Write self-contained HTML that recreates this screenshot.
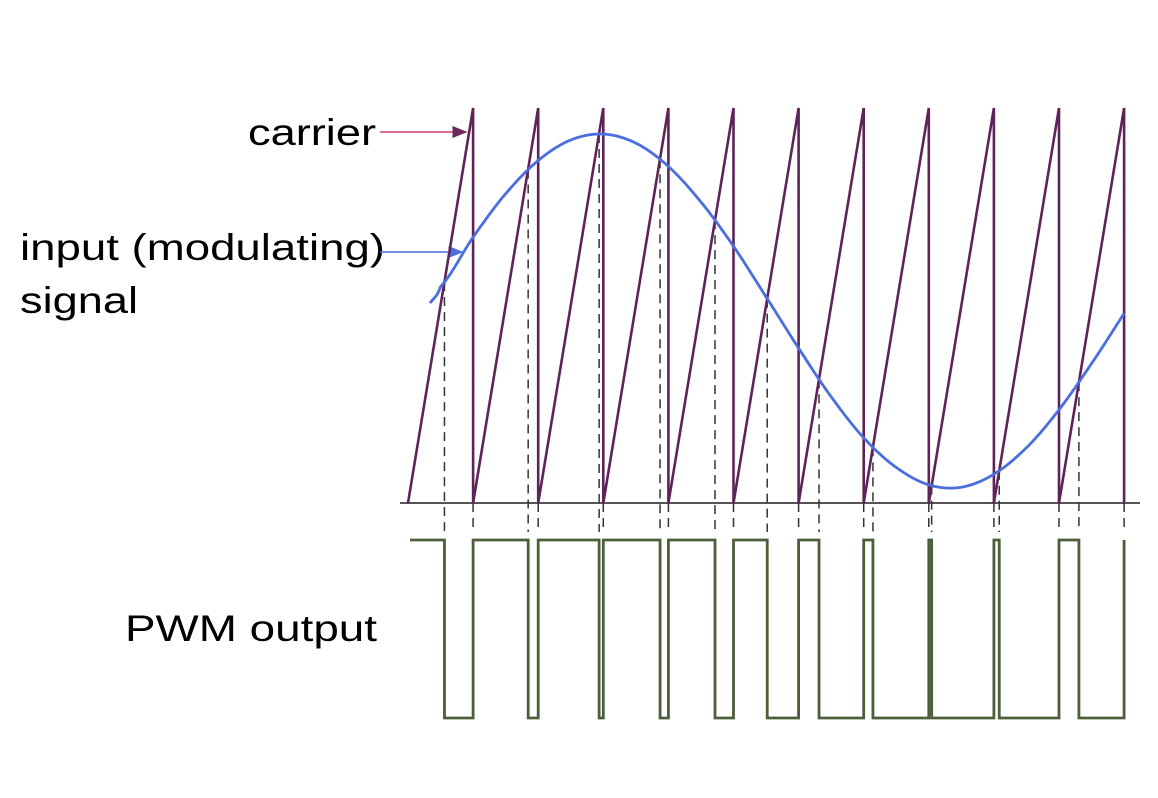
<!DOCTYPE html>
<html><head><meta charset="utf-8"><style>
html,body{margin:0;padding:0;background:#fff;}
svg{display:block;}
text{font-family:"Liberation Sans",Arial,sans-serif;font-size:37px;fill:#000;}
</style></head><body>
<svg id="chart" width="1158" height="798" viewBox="0 0 1158 798" xmlns="http://www.w3.org/2000/svg">
<defs>
<marker id="arrR" markerWidth="10" markerHeight="8" refX="9" refY="4" orient="auto"><path d="M0,0 L10,4 L0,8 Z" fill="#6a2a5a"/></marker>
<marker id="arrB" markerWidth="10" markerHeight="8" refX="9" refY="4" orient="auto"><path d="M0,0 L10,4 L0,8 Z" fill="#4a6ee0"/></marker>
</defs>
<text x="248" y="145" textLength="128" lengthAdjust="spacingAndGlyphs">carrier</text>
<text x="20" y="260" textLength="365" lengthAdjust="spacingAndGlyphs">input (modulating)</text>
<text x="20" y="313" textLength="118" lengthAdjust="spacingAndGlyphs">signal</text>
<text x="125" y="641" textLength="252" lengthAdjust="spacingAndGlyphs">PWM output</text>
<line x1="380" y1="132" x2="466" y2="132" stroke="#d04060" stroke-width="1.5" marker-end="url(#arrR)"/>
<line x1="380" y1="252" x2="462" y2="252" stroke="#4a6ee0" stroke-width="1.5" marker-end="url(#arrB)"/>
<line x1="400" y1="503" x2="1140" y2="503" stroke="#555" stroke-width="2"/>
<g id="dashes"></g><g id="carrier"></g><g id="signal"></g><g id="pwm"></g>
</svg>
<script>
// carrier periods (reset instants, in carrier periods)
const carrierResets = [0,1,2,3,4,5,6,7,8,9,10,11];
// modulating signal samples (time in carrier periods, value 0..1 of carrier amplitude)
const signalTimes = [0.34,0.5,1,1.5,2,2.5,3,3.5,4,4.5,5,5.5,6,6.5,7,7.5,8,8.5,9,9.5,10,10.5,11];
const signalValues = [0.506,0.548,0.673,0.783,0.867,0.919,0.934,0.911,0.852,0.762,0.650,0.522,0.392,0.269,0.165,0.090,0.046,0.040,0.073,0.140,0.236,0.353,0.480];
const pwmLevels = [1,0];

const NS="http://www.w3.org/2000/svg";
const x0=408, per=65.1, yZero=503, yTop=108;
const X=t=>x0+t*per;
const Y=v=>yZero-v*(yZero-yTop);
const pwmHigh=540, pwmLow=718;
const PY=l=>pwmLow-l*(pwmLow-pwmHigh);
function mk(tag,attrs,parent){const e=document.createElementNS(NS,tag);for(const k in attrs)e.setAttribute(k,attrs[k]);document.getElementById(parent).appendChild(e);return e;}
function sig(t){
  if(t<=signalTimes[0])return signalValues[0];
  for(let i=1;i<signalTimes.length;i++){
    if(t<=signalTimes[i]){
      const p1=signalValues[i-1],p2=signalValues[i];
      const p0=i>=2?signalValues[i-2]:2*p1-p2;
      const p3=i+1<signalValues.length?signalValues[i+1]:2*p2-p1;
      const u=(t-signalTimes[i-1])/(signalTimes[i]-signalTimes[i-1]);
      return 0.5*((2*p1)+(-p0+p2)*u+(2*p0-5*p1+4*p2-p3)*u*u+(-p0+3*p1-3*p2+p3)*u*u*u);
    }
  }
  return signalValues[signalValues.length-1];
}
// carrier
for(let k=0;k<carrierResets.length-1;k++){
  const a=carrierResets[k],b=carrierResets[k+1];
  const p=mk('path',{d:`M${X(a)},${Y(0)} L${X(b)},${Y(1)} L${X(b)},${Y(0)}`,fill:'none',stroke:'#5e2458','stroke-width':2.6,'stroke-linejoin':'miter'},'carrier');
  
  
}
// signal
let d='';
const tS=signalTimes[0],tE=signalTimes[signalTimes.length-1];
for(let t=tS;t<=tE+1e-9;t+=0.02){d+=(d?'L':'M')+X(t).toFixed(1)+','+Y(sig(t)).toFixed(1);}
const sp=mk('path',{d:d,fill:'none',stroke:'#4a6ee0','stroke-width':2.8},'signal');


// crossings & pwm
let pd=`M${X(0)+2},${PY(pwmLevels[0])}`;
for(let k=0;k<carrierResets.length-1;k++){
  const a=carrierResets[k],b=carrierResets[k+1];
  let tc=b;
  for(let t=a;t<=b;t+=0.002){if((t-a)/(b-a)>=sig(t)){tc=t;break;}}
  pd+=` L${X(tc)},${PY(pwmLevels[0])} L${X(tc)},${PY(pwmLevels[1])} L${X(b)},${PY(pwmLevels[1])} L${X(b)},${PY(pwmLevels[0])}`;
  const dl=mk('line',{x1:X(tc),y1:Y(sig(tc)),x2:X(tc),y2:532,stroke:'#333','stroke-width':1.5,'stroke-dasharray':'9,6'},'dashes');
  
  
  const dr=mk('line',{x1:X(b),y1:yZero,x2:X(b),y2:532,stroke:'#333','stroke-width':1.5,'stroke-dasharray':'9,6'},'dashes');
  
  
}
const pw=mk('path',{d:pd,fill:'none',stroke:'#4c5e3a','stroke-width':2.8},'pwm');


</script>
</body></html>
